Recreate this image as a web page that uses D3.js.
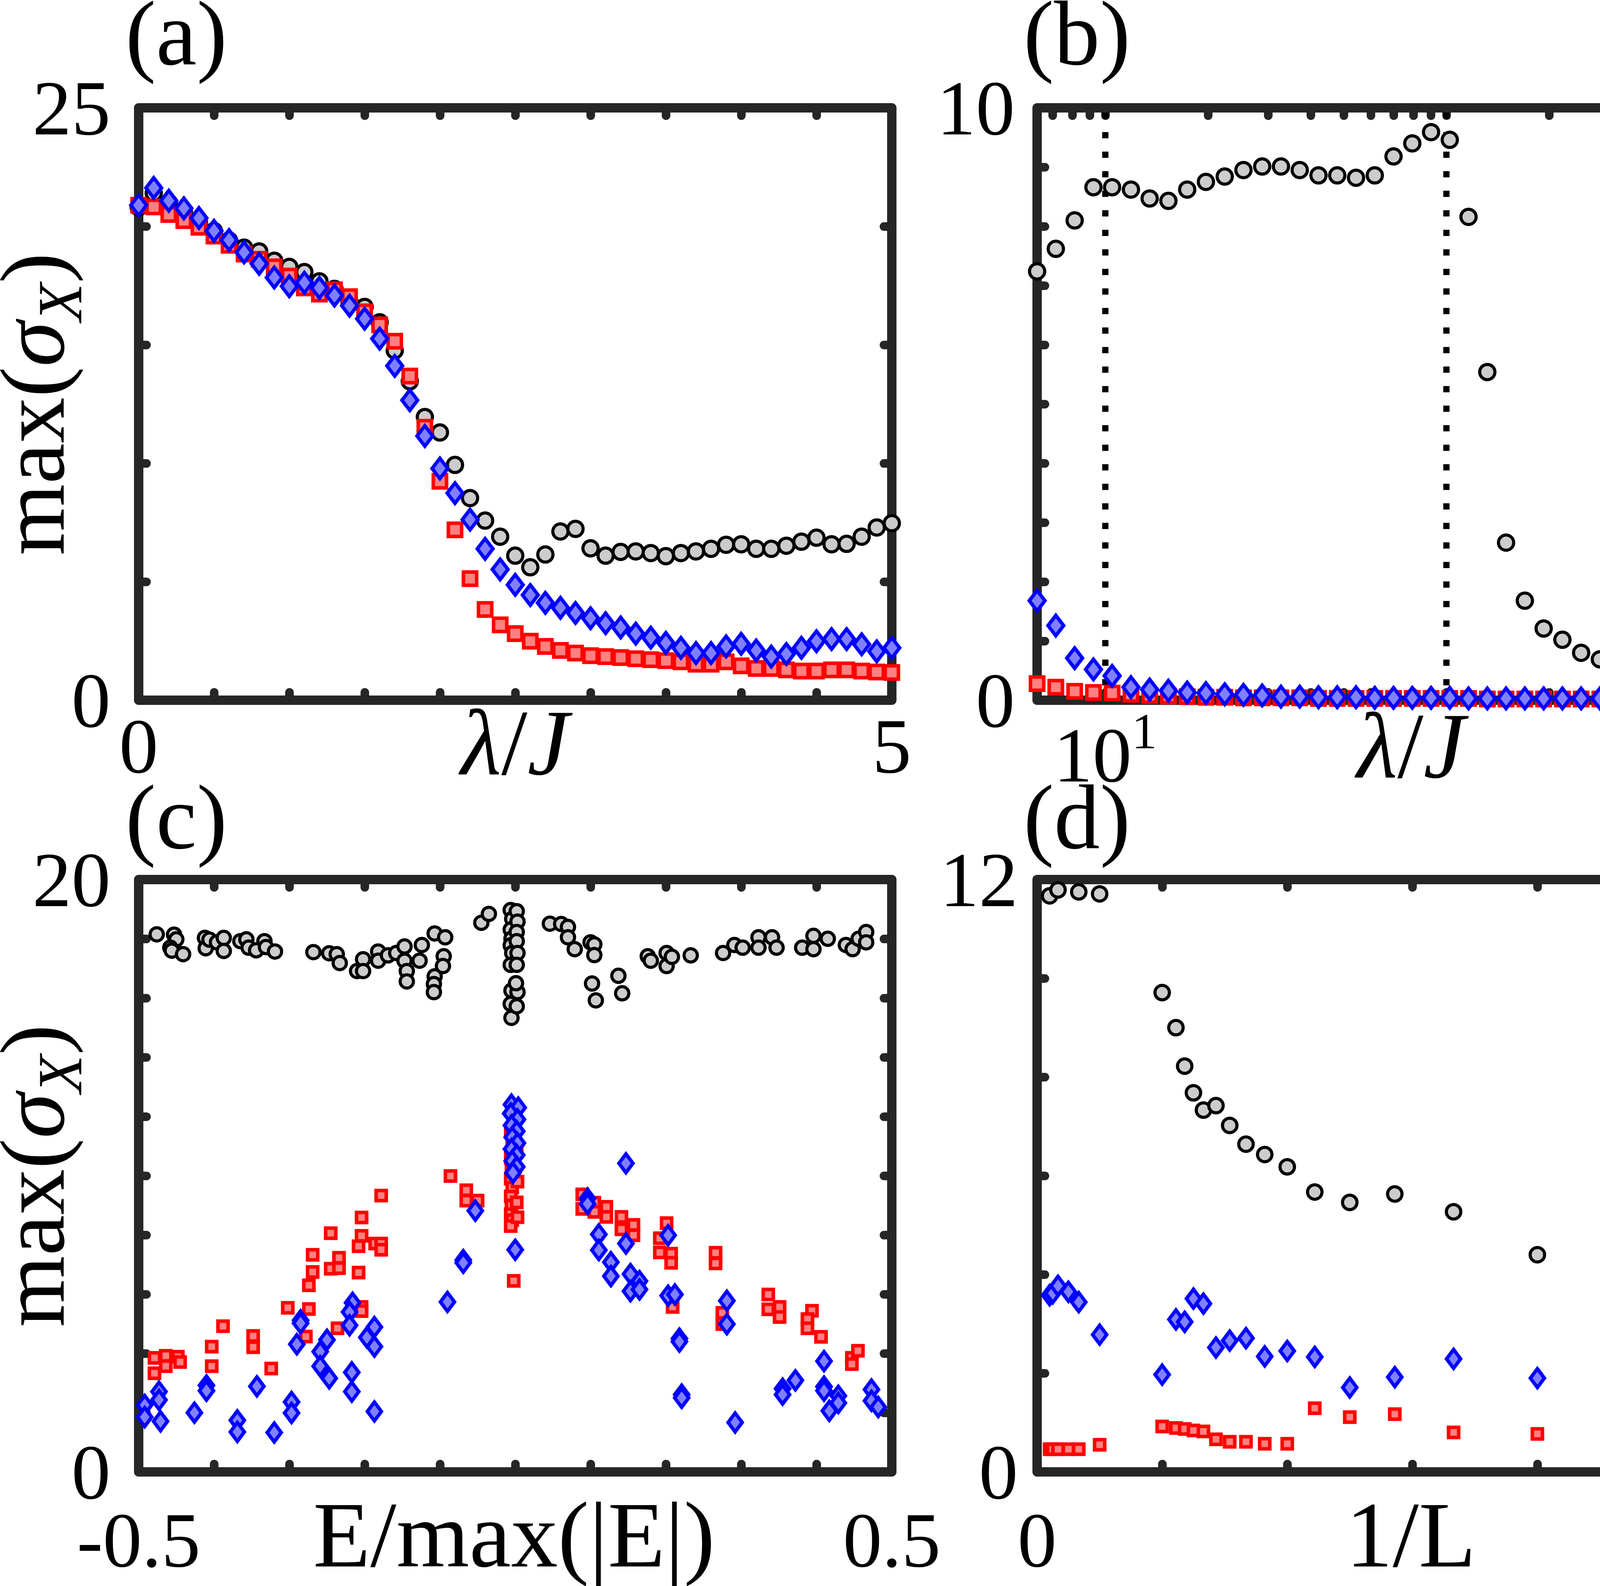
<!DOCTYPE html>
<html>
<head>
<meta charset="utf-8">
<script src="https://cdn.jsdelivr.net/npm/d3@7"></script>
<style>
  body { margin: 0; background: #fff; }
  svg { display: block; background: #fff; }
  text { font-family: "Liberation Serif", "Times New Roman", serif; fill: #000; }
</style>
</head>
<body>
<svg id="chart"></svg>
<script>
// ---- panel (a): max(sigma_X) vs lambda/J, linear axis
const aLambda = [0,0.1,0.2,0.3,0.4,0.5,0.6,0.7,0.8,0.9,1,1.1,1.2,1.3,1.4,1.5,1.6,1.7,1.8,1.9,2,
  2.1,2.2,2.3,2.4,2.5,2.6,2.7,2.8,2.9,3,3.1,3.2,3.3,3.4,3.5,3.6,3.7,3.8,3.9,4,
  4.1,4.2,4.3,4.4,4.5,4.6,4.7,4.8,4.9,5];
const aBlack = [20.8,21.4,21.0,20.6,20.2,19.8,19.4,19.1,18.94,18.55,18.29,18.07,17.68,17.36,16.8,16.6,15.95,14.76,13.46,11.95,
  11.3,9.93,8.53,7.58,6.9,6.1,5.61,6.15,7.12,7.23,6.41,6.1,6.26,6.28,6.21,6.08,6.21,6.28,6.39,6.56,
  6.58,6.39,6.39,6.52,6.69,6.86,6.58,6.6,6.9,7.29,7.47];
const aRed = [20.89,20.82,20.5,20.24,19.96,19.59,19.2,18.83,18.61,18.29,17.9,17.4,17.14,17.32,17.03,16.39,15.84,15.15,13.68,11.52,
  9.24,7.19,5.13,3.83,3.18,2.81,2.49,2.27,2.1,1.99,1.88,1.84,1.8,1.75,1.71,1.67,1.62,1.52,1.52,1.62,
  1.45,1.34,1.34,1.28,1.23,1.23,1.28,1.28,1.23,1.19,1.17];
const aBlue = [20.89,21.62,21.08,20.76,20.35,19.81,19.42,18.9,18.42,17.84,17.47,17.62,17.4,17.08,16.65,16.1,15.26,14.11,12.66,11.15,
  9.78,8.74,7.62,6.39,5.52,4.87,4.44,4.11,3.9,3.68,3.46,3.25,3.07,2.81,2.64,2.42,2.21,1.99,1.99,2.27,
  2.38,2.1,1.84,1.95,2.21,2.49,2.58,2.58,2.36,2.06,2.21];
const aXTicks = [0,0.5,1,1.5,2,2.5,3,3.5,4,4.5,5];
const aYTicks = [0,5,10,15,20,25];

// ---- panel (b): log axis
const bLambda = [6.31,7.16,8.13,9.23,10.47,11.89,13.49,15.31,17.38,19.72,22.39,25.41,28.84,32.73,37.15,42.17,47.86,54.33,61.66,69.98,
  79.43,90.16,102.3,116.1,131.8,149.6,169.8,192.8,218.8,248.3,281.8,319.9,363.1,412.1,467.7,530.9,602.6,683.9,776.2,881.0,1000];
const bBlack = [7.24,7.62,8.10,8.66,8.66,8.62,8.47,8.43,8.62,8.75,8.84,8.95,9.01,9.01,8.95,8.86,8.86,8.82,8.86,9.18,
  9.40,9.59,9.46,8.16,5.54,2.66,1.68,1.21,1.02,0.80,0.69,0.59,0.50,0.43,0.37,0.32,0.28,0.25,0.22,0.20,0.17];
const bRed = [0.28,0.22,0.15,0.13,0.12,0.10,0.08,0.07,0.06,0.05,0.05,0.04,0.04,0.04,0.04,0.03,0.03,0.03,0.03,0.03,
  0.03,0.03,0.03,0.03,0.02,0.02,0.02,0.02,0.02,0.02,0.02,0.02,0.02,0.02,0.02,0.02,0.02,0.02,0.02,0.02,0.02];
const bBlue = [1.68,1.26,0.71,0.52,0.41,0.22,0.18,0.16,0.13,0.12,0.10,0.09,0.08,0.06,0.06,0.05,0.05,0.05,0.04,0.04,
  0.04,0.04,0.04,0.03,0.03,0.03,0.03,0.03,0.03,0.03,0.03,0.03,0.02,0.02,0.02,0.02,0.02,0.02,0.02,0.02,0.02];
const bXTicks = [7,8,9,10,20,30,40,50,60,70,80,90,100,200,300,400,500,600,700,800,900,1000];
const bYTicks = [0,1,2,3,4,5,6,7,8,9,10];
const bMarkLines = [10, 100];

// ---- panel (c): scatter over E/max(|E|), pairs [E, max(sigma)]
const cBlack = [[-0.476,18.15],[-0.453,18.14],[-0.450,17.98],[-0.458,17.7],[-0.456,17.6],[-0.441,17.48],
  [-0.412,18.03],[-0.411,17.68],[-0.406,17.97],[-0.396,17.88],[-0.387,18.03],[-0.387,17.59],
  [-0.365,17.92],[-0.357,17.98],[-0.354,17.7],[-0.344,17.61],[-0.333,17.92],[-0.331,17.72],[-0.319,17.57],
  [-0.268,17.55],[-0.247,17.51],[-0.237,17.48],[-0.233,17.18],[-0.210,16.91],[-0.202,17.31],[-0.202,16.91],
  [-0.182,17.57],[-0.182,17.26],[-0.169,17.44],[-0.158,17.52],[-0.147,17.74],[-0.147,17.26],[-0.144,16.91],[-0.144,16.56],
  [-0.127,17.26],[-0.124,17.79],[-0.107,18.18],[-0.093,18.05],[-0.095,17.41],[-0.096,17.08],[-0.107,16.73],[-0.108,16.47],[-0.108,16.2],
  [-0.045,18.54],[-0.035,18.84],
  [-0.006,18.97],[-0.004,18.67],[-0.006,18.31],[-0.005,18.0],[-0.006,17.78],[-0.004,17.52],[-0.006,17.12],[-0.005,16.25],[-0.006,15.8],[-0.005,15.33],
  [0.002,18.93],[0.003,18.58],[0.002,18.23],[0.002,17.92],[0.003,17.52],[0.002,17.12],[0.003,16.2],[0.002,15.72],[0.001,16.5],
  [0.046,18.51],[0.061,18.5],[0.070,18.4],[0.070,18.05],[0.079,17.65],[0.100,17.88],[0.105,17.81],[0.105,17.45],[0.102,16.49],[0.107,15.92],[0.137,16.75],[0.142,16.16],
  [0.176,17.41],[0.180,17.26],[0.201,17.52],[0.201,17.08],[0.208,17.39],[0.233,17.44],
  [0.276,17.52],[0.291,17.79],[0.302,17.7],[0.323,18.05],[0.323,17.7],[0.341,18.05],[0.347,17.7],
  [0.381,17.7],[0.396,18.1],[0.415,18.0],[0.396,17.65],[0.439,17.79],[0.448,17.65],[0.456,18.0],[0.466,18.23],[0.466,17.88]];
const cRed = [[-0.479,3.85],[-0.479,3.33],[-0.464,3.92],[-0.464,3.57],[-0.448,3.89],[-0.445,3.71],
  [-0.403,4.23],[-0.403,3.57],[-0.388,4.92],[-0.348,4.59],[-0.348,4.21],[-0.324,3.49],
  [-0.302,5.54],[-0.274,5.50],[-0.278,4.57],[-0.274,6.30],[-0.269,6.75],[-0.269,7.33],
  [-0.245,8.06],[-0.245,6.86],[-0.234,7.23],[-0.234,6.88],[-0.236,4.85],
  [-0.204,8.59],[-0.204,7.97],[-0.208,7.62],[-0.208,6.73],[-0.204,5.57],[-0.204,5.43],
  [-0.186,7.71],[-0.178,7.71],[-0.178,7.5],[-0.178,9.33],
  [-0.086,9.99],[-0.065,9.51],[-0.065,9.16],[-0.050,9.16],
  [-0.006,11.5],[-0.004,11.0],[-0.006,10.6],[-0.005,10.2],[-0.006,9.9],[-0.004,9.6],[-0.006,9.3],[-0.005,9.0],[-0.006,8.7],[-0.004,8.5],[-0.006,8.3],
  [0.002,10.8],[0.003,9.8],[0.002,9.1],[0.003,8.6],[-0.002,6.45],
  [0.089,9.37],[0.089,8.88],[0.105,9.09],[0.105,8.78],[0.121,8.95],[0.121,8.61],[0.141,8.61],[0.141,8.19],[0.157,8.34],[0.157,7.99],
  [0.201,8.40],[0.192,7.89],[0.192,7.41],[0.207,7.37],[0.207,7.06],[0.209,5.57],[0.266,7.40],[0.266,7.04],[0.275,5.37],[0.275,4.99],
  [0.336,5.99],[0.336,5.49],[0.351,5.57],[0.351,5.23],[0.394,5.44],[0.388,5.16],[0.388,4.85],[0.406,4.56],[0.447,3.85],[0.447,3.64],[0.455,4.09]];
const cBlue = [[-0.492,2.26],[-0.492,1.85],[-0.473,2.71],[-0.473,2.43],[-0.471,1.71],[-0.426,2.0],[-0.41,2.92],[-0.41,2.74],
  [-0.369,1.74],[-0.369,1.35],[-0.343,2.89],[-0.32,1.33],[-0.297,2.36],[-0.297,1.99],
  [-0.285,5.12],[-0.285,5.02],[-0.290,4.31],[-0.250,4.46],[-0.259,4.06],[-0.259,3.57],[-0.247,3.16],
  [-0.217,3.36],[-0.217,2.71],[-0.216,5.71],[-0.220,5.40],[-0.220,4.95],[-0.187,4.89],[-0.197,4.54],[-0.187,4.23],[-0.187,2.04],
  [-0.090,5.74],[-0.069,7.15],[-0.069,7.06],[-0.053,8.82],
  [-0.005,12.4],[0.004,12.3],[-0.006,12.1],[0.003,11.9],[-0.005,11.7],[0.002,11.5],[-0.004,11.3],[0.003,11.1],[-0.005,10.9],[0.002,10.7],[-0.004,10.5],[0.002,10.3],[-0.003,10.1],[0.0,7.5],
  [0.147,10.42],[0.096,9.23],[0.096,9.05],[0.111,8.02],[0.111,7.49],[0.147,7.71],[0.127,7.08],[0.127,6.61],[0.153,6.68],[0.153,6.1],[0.165,6.44],[0.165,6.16],
  [0.203,7.99],[0.203,5.95],[0.212,5.99],[0.218,4.50],[0.218,4.40],[0.221,2.61],[0.221,2.50],[0.281,5.78],[0.281,4.99],[0.292,1.67],
  [0.355,2.81],[0.355,2.61],[0.372,3.09],[0.41,3.74],[0.41,2.88],[0.41,2.74],[0.417,2.06],[0.429,2.57],[0.429,2.33],[0.473,2.78],[0.473,2.40],[0.482,2.19]];
const cXTicks = [-0.5,-0.4,-0.3,-0.2,-0.1,0,0.1,0.2,0.3,0.4,0.5];
const cYTicks = [0,2,4,6,8,10,12,14,16,18,20];

// ---- panel (d): finite-size, 1/L
const dInvLBlack = [0.001,0.00167,0.00333,0.005,0.01,0.0111,0.0118,0.0125,0.0133,0.0143,0.0154,0.0167,0.0182,0.02,0.0222,0.025,0.0286,0.0333,0.04,0.05];
const dBlack = [11.67,11.79,11.75,11.71,9.71,9.0,8.22,7.68,7.33,7.42,7.02,6.64,6.43,6.18,5.67,5.46,5.63,5.27,4.40,3.95];
const dInvL = [0.001,0.00125,0.00167,0.0025,0.00333,0.005,0.01,0.0111,0.0118,0.0125,0.0133,0.0143,0.0154,0.0167,0.0182,0.02,0.0222,0.025,0.0286,0.0333,0.04,0.05];
const dRed = [0.46,0.46,0.46,0.46,0.46,0.55,0.92,0.89,0.87,0.84,0.82,0.66,0.61,0.61,0.57,0.57,1.29,1.11,1.17,0.80,0.77,0.72];
const dBlue = [3.58,3.62,3.77,3.65,3.44,2.78,1.97,3.09,3.04,3.51,3.41,2.52,2.66,2.71,2.34,2.45,2.33,1.71,1.92,2.29,1.90,1.41];
const dXTicks = [0,0.01,0.02,0.03,0.04,0.05,0.06];
const dYTicks = [0,2,4,6,8,10,12];

const W = 4705, H = 4059;
const INK = '#262626';
const svg = d3.select('#chart').attr('width', W).attr('height', H);

const colLeft = [355, 2283], colRight = [2655, 4576];
const rowTop = [1792, 276], rowBottom = [3767, 2251];

function styleTicks(sel) {
  sel.select('.domain').remove();
  sel.selectAll('text').remove();
  sel.selectAll('line')
    .attr('stroke', INK)
    .attr('stroke-width', 22)
    .attr('stroke-linecap', 'round');
}

function drawCircles(g, data, x, y, r) {
  g.append('g').selectAll('circle').data(data).join('circle')
    .attr('cx', d => x(d[0])).attr('cy', d => y(d[1])).attr('r', r)
    .attr('fill', '#cccccc').attr('stroke', '#000').attr('stroke-width', 8);
}
function drawSquares(g, data, x, y, s) {
  g.append('g').selectAll('rect').data(data).join('rect')
    .attr('x', d => x(d[0]) - s / 2).attr('y', d => y(d[1]) - s / 2)
    .attr('width', s).attr('height', s)
    .attr('fill', '#ff8080').attr('stroke', '#ff0000').attr('stroke-width', 9);
}
function drawDiamonds(g, data, x, y, w, h) {
  g.append('g').selectAll('path').data(data).join('path')
    .attr('d', d => {
      const cx = x(d[0]), cy = y(d[1]);
      return `M${cx},${cy - h}L${cx + w},${cy}L${cx},${cy + h}L${cx - w},${cy}Z`;
    })
    .attr('fill', '#8080ff').attr('stroke', '#0000ff').attr('stroke-width', 9)
    .attr('stroke-linejoin', 'miter');
}

function drawPanel(p) {
  const g = svg.append('g');
  const x = p.x, y = p.y;
  const [x0, x1] = x.range();
  const [y0, y1] = y.range();

  // inward ticks on all four sides
  g.append('g').attr('transform', `translate(0,${y0})`)
    .call(d3.axisBottom(x).tickValues(p.xTicks).tickSizeInner(-20).tickSizeOuter(0)).call(styleTicks);
  g.append('g').attr('transform', `translate(0,${y1})`)
    .call(d3.axisTop(x).tickValues(p.xTicks).tickSizeInner(-20).tickSizeOuter(0)).call(styleTicks);
  g.append('g').attr('transform', `translate(${x0},0)`)
    .call(d3.axisLeft(y).tickValues(p.yTicks).tickSizeInner(-20).tickSizeOuter(0)).call(styleTicks);
  g.append('g').attr('transform', `translate(${x1},0)`)
    .call(d3.axisRight(y).tickValues(p.yTicks).tickSizeInner(-20).tickSizeOuter(0)).call(styleTicks);

  g.append('rect')
    .attr('x', x0).attr('y', y1).attr('width', x1 - x0).attr('height', y0 - y1)
    .attr('fill', 'none').attr('stroke', INK).attr('stroke-width', 24)
    .attr('stroke-linejoin', 'round');

  (p.vlines || []).forEach(v => {
    g.append('line')
      .attr('x1', x(v)).attr('x2', x(v)).attr('y1', y1 + 12).attr('y2', y0 - 12)
      .attr('stroke', '#000').attr('stroke-width', 16).attr('stroke-dasharray', '16 34');
  });

  drawCircles(g, p.black, x, y, p.r);
  drawSquares(g, p.red, x, y, p.sq);
  drawDiamonds(g, p.blue, x, y, p.dw, p.dh);

  // tick labels
  p.yLabels.forEach(([v, t]) => {
    g.append('text').attr('x', x0 - p.yGap).attr('y', y(v) + 68)
      .attr('text-anchor', 'end').attr('font-size', 200).text(t);
  });
  p.xLabels.forEach(([v, t, sup]) => {
    const tx = g.append('text').attr('x', x(v)).attr('y', p.xBase)
      .attr('text-anchor', 'middle').attr('font-size', 200);
    tx.append('tspan').text(t);
    if (sup) tx.append('tspan').attr('font-size', 130).attr('dy', -85).text(sup);
    const bb = tx.node().getBBox();
    if (bb.x + bb.width > W - 5) tx.attr('x', x(v) - (bb.x + bb.width - (W - 5)));
  });

  // axis title
  const title = g.append('text').attr('x', p.titleX).attr('y', p.titleBase)
    .attr('text-anchor', 'middle').attr('font-size', 240);
  p.title(title);

  // y axis label
  if (p.yTitle) {
    const t = g.append('text')
      .attr('transform', `translate(163,${(y0 + y1) / 2}) rotate(-90)`)
      .attr('text-anchor', 'middle').attr('font-size', 235);
    t.append('tspan').text('max(');
    t.append('tspan').attr('font-style', 'italic').text('σ');
    t.append('tspan').attr('font-style', 'italic').attr('font-size', 160).attr('dy', 45).text('X');
    t.append('tspan').attr('dy', -45).text(')');
  }

  g.append('text').attr('x', p.tagX).attr('y', p.tagY).attr('font-size', 235).text(p.tag);
}

const lambdaTitle = t => {
  t.append('tspan').attr('font-style', 'italic').text('λ');
  t.append('tspan').text('/');
  t.append('tspan').attr('font-style', 'italic').text('J');
};

drawPanel({
  x: d3.scaleLinear().domain([0, 5]).range(colLeft),
  y: d3.scaleLinear().domain([0, 25]).range(rowTop),
  xTicks: aXTicks, yTicks: aYTicks,
  black: d3.zip(aLambda, aBlack), red: d3.zip(aLambda, aRed), blue: d3.zip(aLambda, aBlue),
  r: 19.5, sq: 34, dw: 20, dh: 26,
  yLabels: [[0, '0'], [25, '25']], yGap: 72,
  xLabels: [[0, '0'], [5, '5']], xBase: 1977,
  title: lambdaTitle, titleX: 1318, titleBase: 1982,
  yTitle: true, tag: '(a)', tagX: 321, tagY: 165
});

drawPanel({
  x: d3.scaleLog().domain([6.31, 1000]).range(colRight),
  y: d3.scaleLinear().domain([0, 10]).range(rowTop),
  xTicks: bXTicks, yTicks: bYTicks, vlines: bMarkLines,
  black: d3.zip(bLambda, bBlack), red: d3.zip(bLambda, bRed), blue: d3.zip(bLambda, bBlue),
  r: 19.5, sq: 34, dw: 20, dh: 26,
  yLabels: [[0, '0'], [10, '10']], yGap: 57,
  xLabels: [[10, '10', '1'], [1000, '10', '3']], xBase: 2000,
  title: lambdaTitle, titleX: 3612, titleBase: 1990,
  yTitle: false, tag: '(b)', tagX: 2620, tagY: 165
});

drawPanel({
  x: d3.scaleLinear().domain([-0.5, 0.5]).range(colLeft),
  y: d3.scaleLinear().domain([0, 20]).range(rowBottom),
  xTicks: cXTicks, yTicks: cYTicks,
  black: cBlack, red: cRed, blue: cBlue,
  r: 17, sq: 26, dw: 18, dh: 24,
  yLabels: [[0, '0'], [20, '20']], yGap: 72,
  xLabels: [[-0.5, '-0.5'], [0.5, '0.5']], xBase: 4009,
  title: t => t.text('E/max(|E|)'), titleX: 1316, titleBase: 4009,
  yTitle: true, tag: '(c)', tagX: 321, tagY: 2171
});

drawPanel({
  x: d3.scaleLinear().domain([0, 0.06]).range(colRight),
  y: d3.scaleLinear().domain([0, 12]).range(rowBottom),
  xTicks: dXTicks, yTicks: dYTicks,
  black: d3.zip(dInvLBlack, dBlack), red: d3.zip(dInvL, dRed), blue: d3.zip(dInvL, dBlue),
  r: 18.5, sq: 26, dw: 18, dh: 24,
  yLabels: [[0, '0'], [12, '12']], yGap: 49,
  xLabels: [[0, '0'], [0.06, '0.06']], xBase: 4009,
  title: t => t.text('1/L'), titleX: 3612, titleBase: 4009,
  yTitle: false, tag: '(d)', tagX: 2620, tagY: 2171
});
</script>
</body>
</html>
